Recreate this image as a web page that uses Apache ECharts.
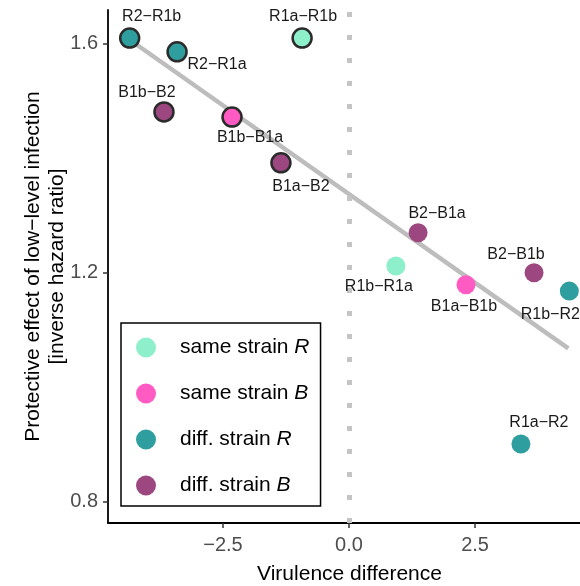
<!DOCTYPE html>
<html>
<head>
<meta charset="utf-8">
<script src="https://cdn.jsdelivr.net/npm/echarts@6/dist/echarts.min.js"></script>
<style>
html,body{margin:0;padding:0;background:#fff;}
#chart{width:580px;height:586px;}
</style>
</head>
<body>
<div id="chart"></div>
<script>
// ---- data ----
const pairLabels = ["R2−R1b","R2−R1a","R1a−R1b","B1b−B2","B1b−B1a","B1a−B2","B2−B1a","R1b−R1a","B1a−B1b","B2−B1b","R1b−R2","R1a−R2"];
const virulenceDiff = [-4.35,-3.41,-0.93,-3.67,-2.32,-1.35,1.37,0.93,2.32,3.67,4.37,3.41];
const protectiveEffect = [1.610,1.586,1.610,1.481,1.472,1.392,1.270,1.212,1.179,1.200,1.168,0.901];
const pairGroup = ["diff. strain R","diff. strain R","same strain R","diff. strain B","same strain B","diff. strain B","diff. strain B","same strain R","same strain B","diff. strain B","diff. strain R","diff. strain R"];
const groupNames = ["same strain R","same strain B","diff. strain R","diff. strain B"];
const fitX = [-4.35, 4.35];
const fitY = [1.607, 1.068];
const xTicks = [-2.5, 0, 2.5];
const yTicks = [0.8, 1.2, 1.6];

// ---- styling ----
const groupColors = {"same strain R":"#8DF0CB","same strain B":"#FF5BC2","diff. strain R":"#2F9E9E","diff. strain B":"#9C477F"};
const labelOffsets = [[22,-21],[40,13],[1,-21],[-17,-19],[18,21],[20,24],[19,-19],[-17,21],[-2,22],[-18,-18],[-19,23],[18,-21]];
const FONT = "'Liberation Sans', Arial, sans-serif";
const fmtNum = v => (v < 0 ? "−" : "") + Math.abs(v).toFixed(1);

const chart = echarts.init(document.getElementById('chart'), null, {renderer:'canvas'});

const pointSeries = groupNames.map(g => ({
  name: g,
  type: 'scatter',
  symbol: 'circle',
  symbolSize: 19,
  z: 5,
  itemStyle: {color: groupColors[g], opacity: 1},
  data: pairLabels.map((lab, i) => ({lab, i})).filter(o => pairGroup[o.i] === g).map(o => ({
    value: [virulenceDiff[o.i], protectiveEffect[o.i]],
    name: o.lab,
    itemStyle: virulenceDiff[o.i] < 0 ? {borderColor:'#2b2b2b', borderWidth:2.5} : {borderWidth:0},
    label: {
      show: true,
      position: 'inside',
      offset: labelOffsets[o.i],
      formatter: o.lab,
      fontSize: 16,
      fontFamily: FONT,
      color: '#1a1a1a',
      align: 'center',
      verticalAlign: 'middle'
    }
  }))
}));

const option = {
  animation: false,
  backgroundColor: '#fff',
  grid: {left: 108, width: 483, top: 10, height: 513, containLabel: false, outerBoundsMode: 'none'},
  xAxis: {
    type: 'value',
    min: -4.78, max: 4.8,
    name: 'Virulence difference',
    nameLocation: 'middle',
    nameGap: 41,
    nameMoveOverlap: false,
    nameTextStyle: {fontSize: 21, fontFamily: FONT, color: '#000'},
    axisLine: {show: true, onZero: false, lineStyle: {color: '#000', width: 1.8}},
    axisTick: {show: true, customValues: xTicks, length: 5, lineStyle: {color: '#333', width: 1.5}},
    axisLabel: {customValues: xTicks, formatter: fmtNum, fontSize: 20, fontFamily: FONT, color: '#4d4d4d', margin: 12},
    splitLine: {show: false}
  },
  yAxis: {
    type: 'value',
    min: 0.763, max: 1.659,
    name: 'Protective effect of low−level infection\n[inverse hazard ratio]',
    nameLocation: 'middle',
    nameGap: 39,
    nameMoveOverlap: false,
    nameTextStyle: {fontSize: 21, fontFamily: FONT, color: '#000', lineHeight: 24, align: 'center'},
    axisLine: {show: true, onZero: false, lineStyle: {color: '#000', width: 1.8}},
    axisTick: {show: true, customValues: yTicks, length: 5, lineStyle: {color: '#333', width: 1.5}},
    axisLabel: {customValues: yTicks, formatter: fmtNum, fontSize: 20, fontFamily: FONT, color: '#4d4d4d', margin: 10},
    splitLine: {show: false}
  },
  legend: {
    orient: 'vertical',
    left: 121, top: 323,
    data: groupNames,
    icon: 'circle',
    itemWidth: 20, itemHeight: 20, itemGap: 25,
    padding: [14, 11, 10, 15],
    borderColor: '#000', borderWidth: 1.5,
    backgroundColor: '#fff',
    itemStyle: {borderWidth: 0},
    formatter: name => {
      const parts = name.split(' ');
      const last = parts.pop();
      return '{n|' + parts.join(' ') + ' }{i|' + last + '}';
    },
    textStyle: {
      fontSize: 21, fontFamily: FONT, color: '#000',
      padding: [0, 0, 0, 19],
      rich: {
        n: {fontSize: 21, fontFamily: FONT, color: '#000'},
        i: {fontSize: 21, fontFamily: FONT, color: '#000', fontStyle: 'italic'}
      }
    }
  },
  series: [
    {
      name: 'fit',
      type: 'line',
      z: 2,
      symbol: 'none',
      silent: true,
      lineStyle: {color: '#bdbdbd', width: 4.5},
      data: fitX.map((x, i) => [x, fitY[i]]),
      markLine: {
        silent: true,
        symbol: ['none','none'],
        label: {show: false},
        lineStyle: {color: '#c4c4c4', width: 5, type: [5, 18], cap: 'butt'},
        data: [{xAxis: 0}]
      }
    },
    ...pointSeries
  ]
};
chart.setOption(option);
</script>
</body>
</html>
